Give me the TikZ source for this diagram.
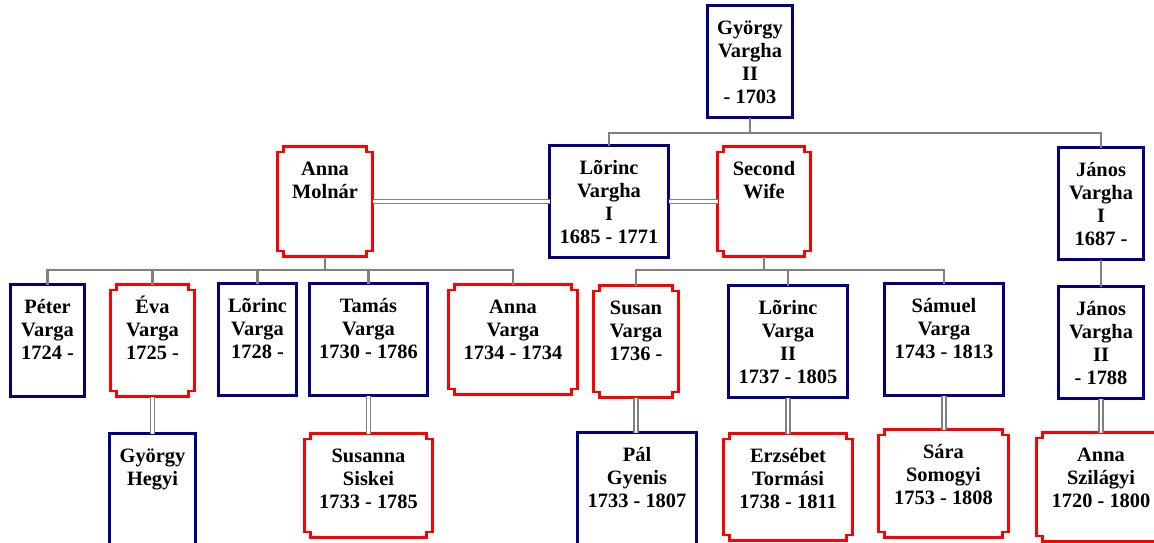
\documentclass[tikz,border=0pt]{standalone}
\usepackage{fontspec}
\setmainfont{Liberation Serif}
\definecolor{cardblue}{HTML}{000080}
\definecolor{cardred}{HTML}{FF0000}
\definecolor{linkgray}{HTML}{808080}

\tikzset{
  bluecard/.style={draw=cardblue, line width=2.6pt, fill=white, rectangle, inner sep=0pt, outer sep=0pt},
  redframe/.style={rectangle, inner sep=0pt, outer sep=0pt},
  redline/.style={draw=cardred, line width=2.5pt, fill=white, line join=miter},
  cardtext/.style={anchor=north, inner sep=0pt, align=center,
    font=\fontsize{20.4}{23}\selectfont\bfseries},
  conn/.style={draw=linkgray, line width=2.4pt},
  marriage/.style={draw=linkgray, line width=1.5pt, double=white, double distance=2.5pt}
}

% #1 name, #2 left, #3 top, #4 right, #5 bottom, #6 text
\newcommand\malecard[6]{%
  \node[bluecard, minimum width={(#4-#2-1)*1pt}, minimum height={(#5-#3-1)*1pt}]
    (#1) at ({(#2+#4)/2},{(#3+#5)/2}) {};
  \node[cardtext] (#1-name) at ({(#2+#4)/2},{#3+10}) {\rule{0pt}{19pt}#6};
}
\newcommand\femalecard[6]{%
  \draw[redline] (#2+0.5,#3+6) -- ++(6,0) -- ++(0,-5.5) -- (#4-6.5,#3+0.5) -- ++(0,5.5) -- ++(6,0)
    -- (#4-0.5,#5-6) -- ++(-6,0) -- ++(0,5.5) -- (#2+6.5,#5-0.5) -- ++(0,-5.5) -- ++(-6,0) -- cycle;
  \node[redframe, minimum width={(#4-#2-1)*1pt}, minimum height={(#5-#3-1)*1pt}]
    (#1) at ({(#2+#4)/2},{(#3+#5)/2}) {};
  \node[cardtext] (#1-name) at ({(#2+#4)/2},{#3+10}) {\rule{0pt}{19pt}#6};
}

\begin{document}
\begin{tikzpicture}[x=1pt, y=-1pt]
  \clip (0,0) rectangle (1154,543);
  \fill[white] (0,0) rectangle (1154,543);

  % generation 1
  \malecard{gyorgy}{707}{5}{793}{118}{György\\Vargha\\II\\- 1703}

  % generation 2
  \femalecard{molnar}{277}{146}{373}{257}{Anna\\Molnár}
  \malecard{lorinc1}{549}{145}{669}{258}{Lõrinc\\Vargha\\I\\1685 - 1771}
  \femalecard{wife2}{717}{146}{811}{257}{Second\\Wife}
  \malecard{janos1}{1058}{147}{1144}{260}{János\\Vargha\\I\\1687 -}

  % generation 3
  \malecard{peter}{10}{284}{85}{397}{Péter\\Varga\\1724 -}
  \femalecard{eva}{110}{284}{195}{397}{Éva\\Varga\\1725 -}
  \malecard{lorinc}{218}{283}{297}{396}{Lõrinc\\Varga\\1728 -}
  \malecard{tamas}{309}{283}{428}{396}{Tamás\\Varga\\1730 - 1786}
  \femalecard{annav}{448}{284}{578}{395}{Anna\\Varga\\1734 - 1734}
  \femalecard{susan}{593}{285}{679}{398}{Susan\\Varga\\1736 -}
  \malecard{lorinc2}{728}{285}{848}{398}{Lõrinc\\Varga\\II\\1737 - 1805}
  \malecard{samuel}{884}{283}{1004}{396}{Sámuel\\Varga\\1743 - 1813}
  \malecard{janos2}{1058}{286}{1144}{399}{János\\Vargha\\II\\- 1788}

  % spouses of generation 3
  \malecard{hegyi}{109}{433}{196}{560}{György\\Hegyi}
  \femalecard{susanna}{304}{433}{433}{538}{Susanna\\Siskei\\1733 - 1785}
  \malecard{pal}{577}{432}{697}{560}{Pál\\Gyenis\\1733 - 1807}
  \femalecard{erzsebet}{723}{433}{853}{541}{Erzsébet\\Tormási\\1738 - 1811}
  \femalecard{sara}{878}{429}{1009}{538}{Sára\\Somogyi\\1753 - 1808}
  \femalecard{szilagyi}{1036}{432}{1166}{542}{Anna\\Szilágyi\\1720 - 1800}

  % descent lines
  \coordinate (sons0) at (750,133);
  \draw[conn] (gyorgy.south) -- (sons0);
  \draw[conn] (lorinc1.north) |- (sons0) -| (janos1.north);
  \draw[conn] (janos1.south) -- (janos2.north);

  \coordinate (kids1) at (325,270);
  \draw[conn] (molnar.south) -- (kids1);
  \draw[conn] (peter.north) |- (kids1) -| (annav.north);
  \draw[conn] (eva.north) -- (eva.north |- kids1);
  \draw[conn] (lorinc.north) -- (lorinc.north |- kids1);
  \draw[conn] (tamas.north) -- (tamas.north |- kids1);

  \coordinate (kids2) at (764,270);
  \draw[conn] (wife2.south) -- (kids2);
  \draw[conn] (susan.north) |- (kids2) -| (samuel.north);
  \draw[conn] (lorinc2.north) -- (lorinc2.north |- kids2);

  % marriages
  \draw[marriage] (molnar.east) -- (molnar.east -| lorinc1.west);
  \draw[marriage] (lorinc1.east) -- (lorinc1.east -| wife2.west);
  \draw[marriage] (eva.south) -- (eva.south -| hegyi.north) -- (hegyi.north);
  \draw[marriage] (tamas.south) -- (tamas.south |- susanna.north);
  \draw[marriage] (susan.south) -- (susan.south |- pal.north);
  \draw[marriage] (lorinc2.south) -- (lorinc2.south |- erzsebet.north);
  \draw[marriage] (samuel.south) -- (samuel.south |- sara.north);
  \draw[marriage] (janos2.south) -- (janos2.south |- szilagyi.north);
\end{tikzpicture}
\end{document}
